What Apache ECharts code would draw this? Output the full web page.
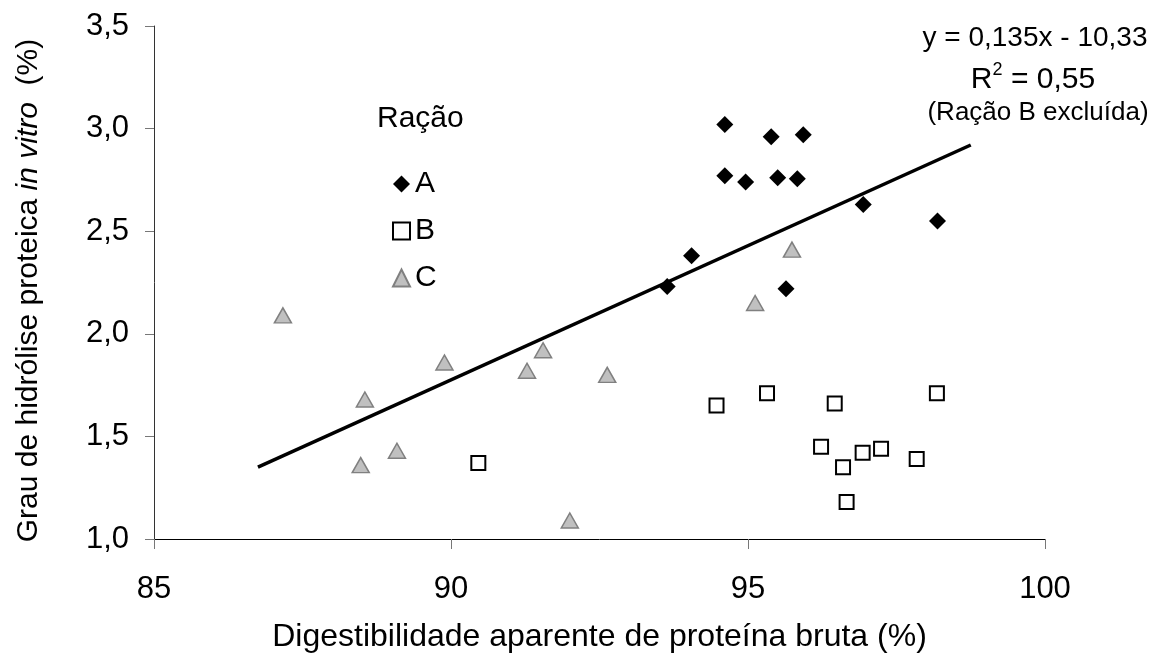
<!DOCTYPE html>
<html>
<head>
<meta charset="utf-8">
<script src="https://cdn.jsdelivr.net/npm/echarts@6/dist/echarts.min.js"></script>
<style>
html,body{margin:0;padding:0;background:#fff;}
#c{width:1157px;height:669px;}
</style>
</head>
<body>
<div id="c"></div>
<script>
// Ração A
var A_x = [94.61, 95.39, 95.93, 94.61, 94.96, 95.50, 95.83, 96.94, 98.19, 94.05, 93.64, 95.64];
var A_y = [3.02, 2.96, 2.97, 2.77, 2.74, 2.76, 2.755, 2.63, 2.55, 2.38, 2.23, 2.22];
// Ração B
var B_x = [90.46, 94.47, 95.32, 96.46, 98.18, 96.23, 96.93, 97.24, 96.60, 97.84, 96.66];
var B_y = [1.37, 1.65, 1.71, 1.66, 1.71, 1.45, 1.42, 1.44, 1.35, 1.39, 1.18];
// Ração C
var C_x = [87.17, 88.48, 88.55, 89.09, 89.89, 91.28, 91.55, 92.00, 92.63, 95.12, 95.74];
var C_y = [2.09, 1.36, 1.68, 1.43, 1.86, 1.82, 1.92, 1.09, 1.80, 2.15, 2.41];
// Linha de regressão (Ração B excluída)
var LINE_X = [86.75, 98.75];
var LINE_Y = [1.35, 2.92];

var SERIES_NAMES = ['A', 'B', 'C'];
var X_TICKS = [85, 90, 95, 100];
var Y_TICKS = [1.0, 1.5, 2.0, 2.5, 3.0, 3.5];

function zip(xs, ys) { return xs.map(function (x, i) { return [x, ys[i]]; }); }

var FONT = '"Liberation Sans", Arial, sans-serif';
var chart = echarts.init(document.getElementById('c'), null, {renderer: 'canvas'});

chart.setOption({
  backgroundColor: '#ffffff',
  animation: false,
  textStyle: {fontFamily: FONT, color: '#000'},
  grid: {left: 154, right: 112, top: 26, bottom: 130, outerBoundsMode: 'none', containLabel: false},
  xAxis: {
    type: 'value',
    min: X_TICKS[0], max: X_TICKS[X_TICKS.length - 1], interval: 5,
    name: 'Digestibilidade aparente de proteína bruta (%)',
    nameLocation: 'middle', nameGap: 82,
    nameTextStyle: {fontSize: 32, color: '#000', fontFamily: FONT},
    axisLine: {show: true, lineStyle: {color: '#000', width: 1}},
    axisTick: {show: true, inside: false, length: 10, lineStyle: {color: '#777', width: 1}},
    axisLabel: {fontSize: 31, color: '#000', margin: 35, fontFamily: FONT},
    splitLine: {show: false}
  },
  yAxis: {
    type: 'value',
    min: Y_TICKS[0], max: Y_TICKS[Y_TICKS.length - 1], interval: 0.5,
    name: '{n|Grau de hidrólise proteica }{i|in vitro}{n|  (%)}',
    nameLocation: 'middle', nameGap: 110, nameRotate: 90,
    nameTextStyle: {
      fontSize: 30, color: '#000', fontFamily: FONT,
      padding: [0, 16, 0, 0],
      rich: {
        n: {fontSize: 30, color: '#000', fontFamily: FONT},
        i: {fontSize: 30, color: '#000', fontFamily: FONT, fontStyle: 'italic'}
      }
    },
    axisLine: {show: true, lineStyle: {color: '#333', width: 1}},
    axisTick: {show: true, inside: false, length: 9, lineStyle: {color: '#777', width: 1}},
    axisLabel: {
      fontSize: 31, color: '#000', margin: 25, fontFamily: FONT,
      formatter: function (v) { return v.toFixed(1).replace('.', ','); }
    },
    splitLine: {show: false}
  },
  legend: {
    data: SERIES_NAMES,
    orient: 'vertical',
    left: 387, top: 164,
    itemWidth: 17, itemHeight: 17, itemGap: 17,
    textStyle: {fontSize: 30, color: '#000', fontFamily: FONT, padding: [0, 0, 0, 0]},
    selectedMode: false
  },
  graphic: [
    {type: 'text', left: 377, top: 104, style: {text: 'Ração', font: '30px ' + FONT, fill: '#000'}},
    {type: 'text', x: 1035, y: 38, style: {text: 'y = 0,135x - 10,33', font: '28px ' + FONT, fill: '#000', align: 'center', verticalAlign: 'middle'}},
    {type: 'text', x: 1033, y: 78, style: {
      text: '{r|R}{s|2}{r| = 0,55}', align: 'center', verticalAlign: 'middle',
      rich: {
        r: {fontSize: 30, fontFamily: FONT, fill: '#000', verticalAlign: 'bottom'},
        s: {fontSize: 18, fontFamily: FONT, fill: '#000', verticalAlign: 'top', padding: [0, 0, 16, 0]}
      }
    }},
    {type: 'text', x: 1038, y: 113, style: {text: '(Ração B excluída)', font: '26px ' + FONT, fill: '#000', align: 'center', verticalAlign: 'middle'}}
  ],
  series: [
    {
      name: 'regressão', type: 'line', data: zip(LINE_X, LINE_Y),
      symbol: 'none', lineStyle: {color: '#000', width: 3.5}, z: 1, silent: true
    },
    {
      name: 'A', type: 'scatter', data: zip(A_x, A_y),
      symbol: 'diamond', symbolSize: 17,
      itemStyle: {color: '#000', borderColor: '#000', borderWidth: 0, opacity: 1}, z: 3
    },
    {
      name: 'B', type: 'scatter', data: zip(B_x, B_y),
      symbol: 'rect', symbolSize: 14,
      itemStyle: {color: '#fff', borderColor: '#000', borderWidth: 2, opacity: 1}, z: 3
    },
    {
      name: 'C', type: 'scatter', data: zip(C_x, C_y),
      symbol: 'triangle', symbolSize: [17, 15],
      itemStyle: {color: '#c0c0c0', borderColor: '#808080', borderWidth: 1.5, opacity: 1}, z: 3
    }
  ]
});
</script>
</body>
</html>
